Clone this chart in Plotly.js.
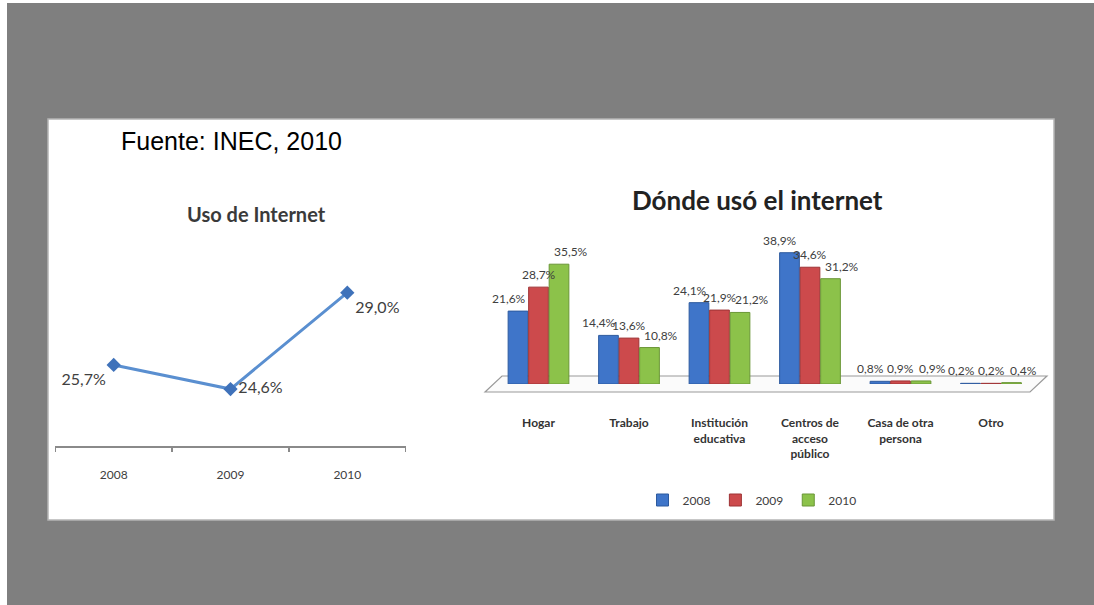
<!DOCTYPE html>
<html>
<head>
<meta charset="utf-8">
<script src="https://cdn.plot.ly/plotly-3.0.1.min.js"></script>
<style>
  html, body { margin: 0; padding: 0; background: #7f7f7f; }
  #chart { width: 1094px; height: 605px; }
</style>
</head>
<body>
<div id="chart"></div>
<script>
// ---- Data ----
const years = ['2008', '2009', '2010'];
const usoInternet = [25.7, 24.6, 29.0];

const lugares = ['Hogar', 'Trabajo', 'Institución educativa', 'Centros de acceso público', 'Casa de otra persona', 'Otro'];
const lugaresTick = ['Hogar', 'Trabajo', 'Institución<br>educativa', 'Centros de<br>acceso<br>público', 'Casa de otra<br>persona', 'Otro'];
const serie2008 = [21.6, 14.4, 24.1, 38.9, 0.8, 0.2];
const serie2009 = [28.7, 13.6, 21.9, 34.6, 0.9, 0.2];
const serie2010 = [35.5, 10.8, 21.2, 31.2, 0.9, 0.4];

// ---- Helpers ----
const W = 1094, H = 605;
const px = x => x / W;
const py = y => 1 - y / H;
const fmt = v => v.toFixed(1).replace('.', ',') + '%';
const labelFont = { family: 'Lato, "Open Sans", sans-serif', size: 12, color: '#404040' };

const traces = [
  {
    type: 'scatter', mode: 'lines+markers+text',
    x: years, y: usoInternet,
    text: usoInternet.map(fmt),
    textposition: ['bottom left', 'middle right', 'bottom right'],
    textfont: { family: 'Lato, sans-serif', size: 16, color: '#404040' },
    line: { color: '#5a8fd0', width: 3 },
    marker: { symbol: 'diamond', size: 11, color: '#3f72ba' },
    xaxis: 'x', yaxis: 'y', showlegend: false, cliponaxis: false, hoverinfo: 'skip'
  }
];

const barSeries = [
  { name: '2008', vals: serie2008, color: '#3f75c9', line: '#2d5a9e', shift: -30 },
  { name: '2009', vals: serie2009, color: '#cc4a4c', line: '#9e3335', shift: 0 },
  { name: '2010', vals: serie2010, color: '#8cc24a', line: '#6a9636', shift: 32 }
];
const barLabels = [];
barSeries.forEach(s => {
  traces.push({
    type: 'bar', name: s.name,
    x: lugares, y: s.vals,
    marker: { color: s.color, line: { color: s.line, width: 1 } },
    xaxis: 'x2', yaxis: 'y2', hoverinfo: 'skip'
  });
  s.vals.forEach((v, i) => {
    barLabels.push({
      text: fmt(v), xref: 'x2', yref: 'y2', x: lugares[i], y: v,
      xanchor: 'center', yanchor: 'bottom', xshift: s.shift, yshift: 3,
      showarrow: false, font: labelFont
    });
  });
});

const layout = {
  width: W, height: H,
  margin: { l: 0, r: 0, t: 0, b: 0 },
  paper_bgcolor: '#7f7f7f',
  plot_bgcolor: 'rgba(0,0,0,0)',
  separators: ',.',
  barmode: 'group',
  bargap: 0.32,
  bargroupgap: 0.04,
  font: { family: 'Lato, sans-serif', color: '#404040' },
  xaxis: {
    domain: [px(55.3), px(405.7)],
    anchor: 'y',
    type: 'category',
    range: [-0.5, 2.5],
    showline: true, linecolor: '#8a8a8a', linewidth: 2,
    ticks: 'outside', tickson: 'boundaries', ticklen: 4, tickcolor: '#8a8a8a', tickwidth: 1.5,
    ticklabelstandoff: 17,
    tickfont: { family: 'Lato, sans-serif', size: 12, color: '#404040' },
    showgrid: false, zeroline: false, fixedrange: true
  },
  yaxis: {
    domain: [py(446), py(270.8)],
    anchor: 'x',
    range: [22, 30],
    visible: false, showgrid: false, zeroline: false, fixedrange: true
  },
  xaxis2: {
    domain: [px(493.25), px(1036.25)],
    anchor: 'y2',
    type: 'category',
    range: [-0.5, 5.5],
    tickmode: 'array', tickvals: lugares, ticktext: lugaresTick,
    showline: false, ticks: '',
    ticklabelstandoff: 30,
    tickfont: { family: 'Lato, sans-serif', size: 12, color: '#333333', weight: 'bold' },
    showgrid: false, zeroline: false, fixedrange: true
  },
  yaxis2: {
    domain: [py(384), py(249)],
    anchor: 'x2',
    range: [0, 40],
    visible: false, showgrid: false, zeroline: false, fixedrange: true
  },
  showlegend: true,
  legend: {
    orientation: 'h',
    x: px(752), xanchor: 'center',
    y: py(500), yanchor: 'middle',
    font: { family: 'Lato, sans-serif', size: 12, color: '#404040' },
    bgcolor: 'rgba(0,0,0,0)',
    itemwidth: 30,
    traceorder: 'normal'
  },
  shapes: [
    { type: 'rect', xref: 'paper', yref: 'paper', x0: 0, x1: px(7), y0: 0, y1: 1, fillcolor: '#ffffff', line: { width: 0 }, layer: 'below' },
    { type: 'rect', xref: 'paper', yref: 'paper', x0: 0, x1: 1, y0: py(3), y1: 1, fillcolor: '#ffffff', line: { width: 0 }, layer: 'below' },
    { type: 'rect', xref: 'paper', yref: 'paper', x0: px(48), x1: px(1054), y0: py(520), y1: py(119), fillcolor: '#ffffff', line: { color: '#b5b5b5', width: 1.5 }, layer: 'below' },
    { type: 'path', xref: 'paper', yref: 'paper', layer: 'below',
      path: `M ${px(485)},${py(392)} L ${px(502)},${py(376)} L ${px(1047)},${py(376)} L ${px(1030)},${py(392)} Z`,
      fillcolor: 'rgba(248,248,248,0.5)', line: { color: '#9a9a9a', width: 1.2 } }
  ],
  annotations: [
    { text: 'Fuente: INEC, 2010', xref: 'paper', yref: 'paper', x: px(119), y: py(141), xanchor: 'left', yanchor: 'middle', showarrow: false,
      font: { family: '"Liberation Sans", Arial, sans-serif', size: 25, color: '#000000' } },
    { text: 'Uso de Internet', xref: 'paper', yref: 'paper', x: px(256), y: py(214), xanchor: 'center', yanchor: 'middle', showarrow: false,
      font: { family: 'Lato, sans-serif', size: 20, color: '#3a3a3a', weight: 'bold' } },
    { text: 'Dónde usó el internet', xref: 'paper', yref: 'paper', x: px(757), y: py(200), xanchor: 'center', yanchor: 'middle', showarrow: false,
      font: { family: 'Lato, sans-serif', size: 26, color: '#222222', weight: 'bold' } }
  ].concat(barLabels)
};

Plotly.newPlot('chart', traces, layout, { displayModeBar: false, staticPlot: true });
</script>
</body>
</html>
